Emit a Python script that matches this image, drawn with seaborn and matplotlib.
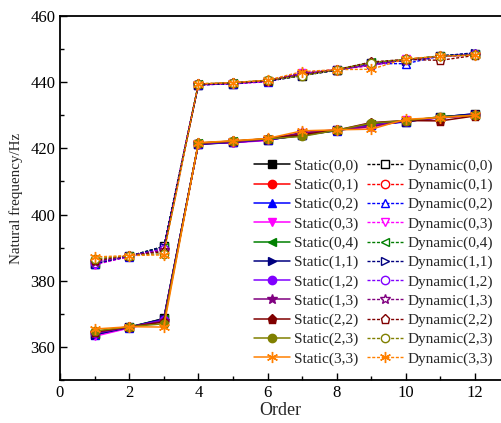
import matplotlib
matplotlib.use("Agg")
import matplotlib.pyplot as plt
from matplotlib.ticker import MultipleLocator
import pandas as pd
import seaborn as sns

# Mode order on the x axis
order = [1, 2, 3, 4, 5, 6, 7, 8, 9, 10, 11, 12]

# Mode labels (m, n)
modes = ["(0,0)", "(0,1)", "(0,2)", "(0,3)", "(0,4)", "(1,1)",
         "(1,2)", "(1,3)", "(2,2)", "(2,3)", "(3,3)"]

# Static natural frequencies (Hz)
static_00 = [363.8, 365.9, 368.6, 421.2, 421.8, 422.6, 423.9, 425.4, 427.2, 428.1, 429.4, 430.3]
static_01 = [364.3, 366.0, 367.9, 421.4, 422.0, 422.8, 424.3, 425.5, 426.8, 428.3, 429.3, 430.1]
static_02 = [363.6, 365.8, 368.2, 421.3, 421.9, 422.5, 424.1, 425.3, 427.0, 428.0, 429.5, 430.4]
static_03 = [363.2, 365.7, 368.0, 421.4, 421.7, 422.4, 424.6, 425.6, 426.4, 428.5, 429.2, 430.0]
static_04 = [364.0, 366.1, 368.4, 421.5, 422.1, 422.9, 424.2, 425.4, 427.3, 428.2, 429.6, 430.2]
static_11 = [363.7, 365.9, 368.5, 421.3, 421.8, 422.6, 424.0, 425.5, 427.1, 428.1, 429.4, 430.5]
static_12 = [364.1, 366.0, 368.1, 421.4, 422.0, 422.7, 424.4, 425.5, 426.9, 428.3, 429.3, 430.1]
static_13 = [364.2, 366.0, 367.8, 421.5, 422.1, 422.8, 424.8, 425.6, 426.6, 428.4, 429.2, 430.0]
static_22 = [364.5, 366.1, 367.5, 421.6, 422.2, 422.9, 424.2, 425.5, 427.8, 428.4, 428.3, 429.8]
static_23 = [364.8, 366.1, 367.0, 421.6, 422.2, 422.9, 423.6, 425.5, 427.6, 428.4, 429.5, 430.0]
static_33 = [365.4, 366.1, 366.0, 421.7, 422.3, 423.0, 425.3, 425.6, 425.8, 428.8, 429.3, 430.0]

# Dynamic natural frequencies (Hz)
dynamic_00 = [385.0, 387.4, 390.4, 439.2, 439.6, 440.3, 442.0, 443.7, 445.9, 446.6, 447.9, 448.6]
dynamic_01 = [385.6, 387.5, 389.6, 439.3, 439.7, 440.4, 442.5, 443.8, 445.4, 446.8, 447.8, 448.4]
dynamic_02 = [385.2, 387.3, 390.0, 439.1, 439.6, 440.2, 442.3, 443.6, 445.6, 445.6, 447.9, 448.8]
dynamic_03 = [384.8, 387.3, 389.8, 439.2, 439.5, 440.1, 442.7, 443.8, 445.0, 446.9, 447.7, 448.3]
dynamic_04 = [385.4, 387.5, 390.2, 439.3, 439.7, 440.5, 442.1, 443.7, 446.0, 446.7, 448.0, 448.5]
dynamic_11 = [385.1, 387.4, 390.3, 439.2, 439.6, 440.3, 442.0, 443.6, 445.8, 446.5, 447.9, 448.9]
dynamic_12 = [385.5, 387.5, 389.5, 439.3, 439.7, 440.4, 442.6, 443.8, 445.3, 446.8, 447.8, 448.4]
dynamic_13 = [385.8, 387.5, 389.2, 439.4, 439.8, 440.5, 442.9, 443.8, 445.1, 446.9, 447.7, 448.3]
dynamic_22 = [386.2, 387.6, 388.8, 439.4, 439.8, 440.5, 442.3, 443.8, 446.1, 446.9, 446.6, 448.1]
dynamic_23 = [386.6, 387.6, 388.2, 439.5, 439.9, 440.6, 441.9, 443.8, 445.9, 446.9, 447.9, 448.2]
dynamic_33 = [387.2, 387.6, 387.8, 439.5, 439.9, 440.6, 443.2, 443.8, 443.9, 447.1, 447.8, 448.2]

static_series = [static_00, static_01, static_02, static_03, static_04, static_11,
                 static_12, static_13, static_22, static_23, static_33]
dynamic_series = [dynamic_00, dynamic_01, dynamic_02, dynamic_03, dynamic_04, dynamic_11,
                  dynamic_12, dynamic_13, dynamic_22, dynamic_23, dynamic_33]

colors = ["#000000", "#FF0000", "#0000FF", "#FF00FF", "#008000", "#000080",
          "#8000FF", "#800080", "#800000", "#808000", "#FF8000"]
markers = ["s", "o", "^", "v", "<", ">", "o", "*", "p", "o", (6, 2, 0)]
msizes = [5.5, 6, 6, 6, 6, 6, 6, 7.5, 6.5, 6, 8]

sns.set_theme(style="ticks")
plt.rcParams["font.family"] = ["Liberation Serif", "DejaVu Serif"]
plt.rcParams["mathtext.fontset"] = "stix"

fig = plt.figure(figsize=(5.01, 4.23), dpi=100)
ax = fig.add_axes([60 / 501, 43 / 423, 441 / 501, 364 / 423])

for label, vals, c, m, ms in zip(modes, static_series, colors, markers, msizes):
    df = pd.DataFrame({"Order": order, "freq": vals})
    sns.lineplot(data=df, x="Order", y="freq", ax=ax, color=c, marker=m,
                 markersize=ms, markeredgecolor=c, markerfacecolor=c,
                 markeredgewidth=1, linewidth=1.1, linestyle="-",
                 label=f"Static{label}")

for label, vals, c, m, ms in zip(modes, dynamic_series, colors, markers, msizes):
    df = pd.DataFrame({"Order": order, "freq": vals})
    sns.lineplot(data=df, x="Order", y="freq", ax=ax, color=c, marker=m,
                 markersize=ms, markeredgecolor=c, markerfacecolor="white",
                 markeredgewidth=1, linewidth=1.0, linestyle=(0, (2.2, 1.2)),
                 label=f"Dynamic{label}")

ax.set_xlim(0, 12.75)
ax.set_ylim(350, 460)
ax.xaxis.set_major_locator(MultipleLocator(2))
ax.xaxis.set_minor_locator(MultipleLocator(1))
ax.yaxis.set_major_locator(MultipleLocator(20))
ax.yaxis.set_minor_locator(MultipleLocator(10))
ax.tick_params(which="both", direction="in", top=False, right=False,
               labelsize=12, colors="#000000", width=1)
ax.tick_params(which="major", length=5)
ax.tick_params(which="minor", length=3)
for side in ["left", "bottom", "top"]:
    ax.spines[side].set_linewidth(1.3)
    ax.spines[side].set_color("#000000")
ax.spines["right"].set_visible(False)

ax.set_xlabel("Order", fontsize=13, labelpad=1)
ax.set_ylabel("Natural frequency/Hz", fontsize=10.8, labelpad=5)

ax.legend(ncol=2, loc="upper left", bbox_to_anchor=(254 / 501, (423 - 159) / 423),
          bbox_transform=fig.transFigure, frameon=False, fontsize=11,
          handlelength=2.35, handletextpad=0.3, columnspacing=0.55,
          labelspacing=0.355, borderpad=0, borderaxespad=0)

fig.savefig("out.png", dpi=100)
